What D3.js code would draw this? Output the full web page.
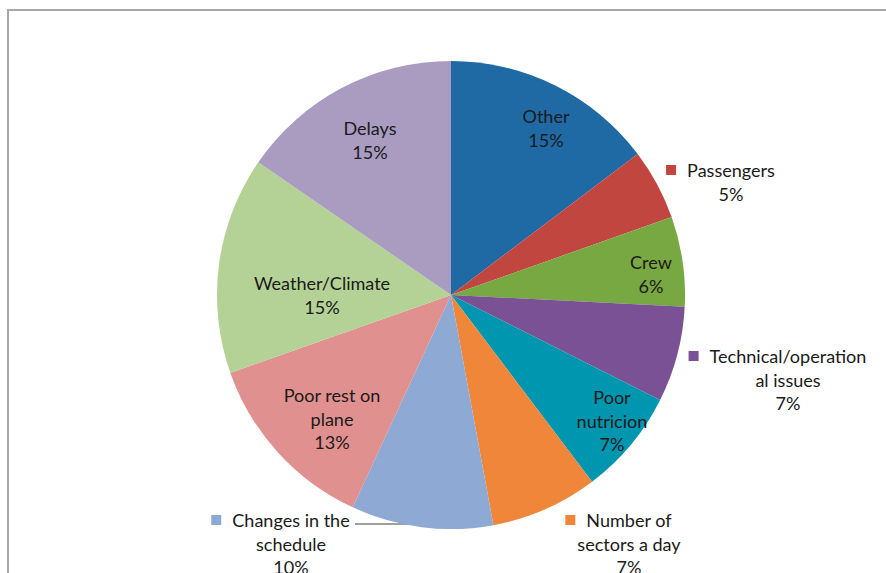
<!DOCTYPE html>
<html>
<head>
<meta charset="utf-8">
<script src="https://cdn.jsdelivr.net/npm/d3@7"></script>
<style>
  html, body { margin: 0; padding: 0; background: #fff; }
  svg { display: block; }
</style>
</head>
<body>
<svg id="chart" width="886" height="573"></svg>
<script>
// ---- data ----
const categories = ["Other", "Passengers", "Crew", "Technical/operational issues", "Poor nutricion",
  "Number of sectors a day", "Changes in the schedule", "Poor rest on plane", "Weather/Climate", "Delays"];
const values = [14.7, 4.9, 6.2, 6.6, 7.3, 7.4, 9.8, 12.7, 15.0, 15.4];
const percentLabels = ["15%", "5%", "6%", "7%", "7%", "7%", "10%", "13%", "15%", "15%"];
const colors = ["#1F6AA5", "#C0463F", "#78A842", "#7A5195", "#0096AF",
  "#F0863A", "#8EA9D3", "#E0918F", "#B5D296", "#AA9CC0"];
// wrapped lines of each category name as shown in the chart
const nameLines = [["Other"], ["Passengers"], ["Crew"], ["Technical/operation", "al issues"], ["Poor", "nutricion"],
  ["Number of", "sectors a day"], ["Changes in the", "schedule"], ["Poor rest on", "plane"], ["Weather/Climate"], ["Delays"]];

// ---- layout ----
const W = 886, H = 573;
const cx = 451, cy = 295, R = 234;
// label block: centre x offset, first-line y offset (relative to pie centre), legend key shown
const labelLayout = [
  {dx: 95, dy: -179, key: false},
  {dx: 280, dy: -125, key: true},
  {dx: 200, dy: -33, key: false},
  {dx: 337, dy: 61, key: true},
  {dx: 161, dy: 102, key: false},
  {dx: 178, dy: 225, key: true},
  {dx: -160, dy: 225, key: true},
  {dx: -119, dy: 100, key: false},
  {dx: -129, dy: -12, key: false},
  {dx: -81, dy: -167, key: false}
];
const lineH = 23.6;

const svg = d3.select("#chart");
svg.append("rect").attr("width", W).attr("height", H).attr("fill", "#fff");
// chart frame (runs off the right and bottom edges)
svg.append("rect").attr("x", 8).attr("y", 10).attr("width", W + 20).attr("height", H + 20)
  .attr("fill", "none").attr("stroke", "#a8a8a8").attr("stroke-width", 2);

const pie = d3.pie().sort(null).value(d => d)(values);
const arc = d3.arc().innerRadius(0).outerRadius(R);

const g = svg.append("g").attr("transform", `translate(${cx},${cy})`);

// leader line for "Changes in the schedule" (drawn under the slices)
const chIdx = 6;
g.append("line")
  .attr("x1", labelLayout[chIdx].dx + 64).attr("y1", labelLayout[chIdx].dy + 4)
  .attr("x2", labelLayout[chIdx].dx + 134).attr("y2", labelLayout[chIdx].dy + 4)
  .attr("stroke", "#404040").attr("stroke-width", 1);

g.selectAll("path.slice").data(pie).join("path")
  .attr("class", "slice")
  .attr("d", arc)
  .attr("fill", (d, i) => colors[i]);

// font sizing to mimic Calibri metrics
const fontFamily = "Lato, 'Open Sans', 'Liberation Sans', sans-serif";
const probe = svg.append("text").attr("font-family", fontFamily).attr("font-size", 16).text("Technical/operation");
const pw = probe.node().getComputedTextLength();
probe.remove();
const fontSize = Math.min(19, Math.max(14, 16 * 157 / pw));

const labels = g.append("g").attr("font-family", fontFamily).attr("font-size", fontSize).attr("fill", "#1a1a1a");
categories.forEach((c, i) => {
  const L = labelLayout[i];
  const lines = nameLines[i].concat([percentLabels[i]]);
  const t = labels.append("text").attr("text-anchor", "middle");
  lines.forEach((ln, j) => {
    t.append("tspan").attr("x", L.dx).attr("y", L.dy + j * lineH).attr("dominant-baseline", "central").text(ln);
  });
  if (L.key) {
    const firstW = t.select("tspan").node().getComputedTextLength();
    const ks = 10;
    labels.append("rect")
      .attr("x", L.dx - firstW / 2 - 11 - ks)
      .attr("y", L.dy - ks / 2)
      .attr("width", ks).attr("height", ks)
      .attr("fill", colors[i]);
  }
});
</script>
</body>
</html>
